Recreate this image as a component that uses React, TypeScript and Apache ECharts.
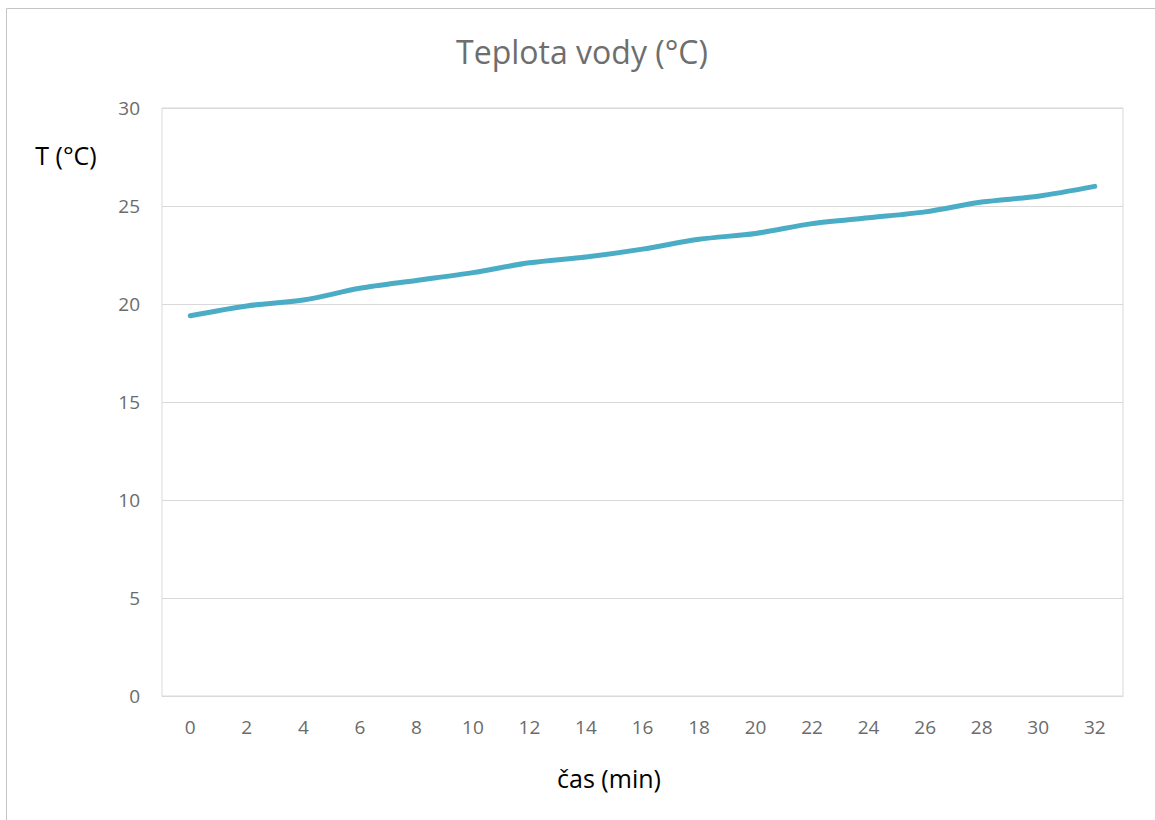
import React, { useEffect, useRef } from "react";
import * as echarts from "echarts";

const categories: string[] = ["0", "2", "4", "6", "8", "10", "12", "14", "16", "18", "20", "22", "24", "26", "28", "30", "32"];
const temperatures: number[] = [19.4, 19.9, 20.2, 20.8, 21.2, 21.6, 22.1, 22.4, 22.8, 23.3, 23.6, 24.1, 24.4, 24.7, 25.2, 25.5, 26.0];
const titleText = "Teplota vody (°C)";
const yName = "T (°C)";
const xName = "čas (min)";

const FONT = "'Open Sans', 'Noto Sans', sans-serif";

export default function App() {
  const ref = useRef<HTMLDivElement>(null);
  useEffect(() => {
    if (!ref.current) return;
    const chart = echarts.init(ref.current, null, { renderer: "svg" });
    chart.setOption({
      animation: false,
      backgroundColor: "#ffffff",
      textStyle: { fontFamily: FONT },
      grid: {
        left: 162,
        right: 32,
        top: 108,
        bottom: 124,
        show: true,
        borderColor: "#d9d9d9",
        borderWidth: 1,
        containLabel: false,
      },
      graphic: [
        {
          type: "rect",
          shape: { x: 6.5, y: 8.5, width: 1300, height: 1000 },
          style: { fill: "none", stroke: "#c4c4c4", lineWidth: 1 },
          silent: true,
          z: -1,
        },
        {
          type: "text",
          x: 582,
          y: 51,
          style: {
            text: titleText,
            fill: "#6e6e6e",
            font: `32px ${FONT}`,
            align: "center",
            verticalAlign: "middle",
          },
        },
        {
          type: "text",
          x: 66,
          y: 155,
          style: {
            text: yName,
            fill: "#000000",
            font: `25px ${FONT}`,
            align: "center",
            verticalAlign: "middle",
          },
        },
        {
          type: "text",
          x: 609,
          y: 778,
          style: {
            text: xName,
            fill: "#000000",
            font: `25px ${FONT}`,
            align: "center",
            verticalAlign: "middle",
          },
        },
      ],
      xAxis: {
        type: "category",
        data: categories,
        boundaryGap: true,
        axisLine: { show: true, lineStyle: { color: "#d9d9d9", width: 1 } },
        axisTick: { show: false },
        axisLabel: { color: "#6b6b6b", fontSize: 19, margin: 21, fontFamily: FONT, interval: 0 },
        splitLine: { show: false },
      },
      yAxis: {
        type: "value",
        min: 0,
        max: 30,
        interval: 5,
        axisLine: { show: false },
        axisTick: { show: false },
        axisLabel: { color: "#6b6b6b", fontSize: 19, margin: 22, fontFamily: FONT },
        splitLine: { show: true, lineStyle: { color: "#d9d9d9", width: 1 } },
      },
      series: [
        {
          type: "line",
          data: temperatures,
          showSymbol: false,
          smooth: 0.3,
          lineStyle: { color: "#4bacc6", width: 5, cap: "round", join: "round" },
          itemStyle: { color: "#4bacc6" },
        },
      ],
    });
    return () => chart.dispose();
  }, []);
  return (
    <div
      ref={ref}
      style={{ position: "fixed", left: 0, top: 0, width: 1155, height: 820 }}
    />
  );
}
